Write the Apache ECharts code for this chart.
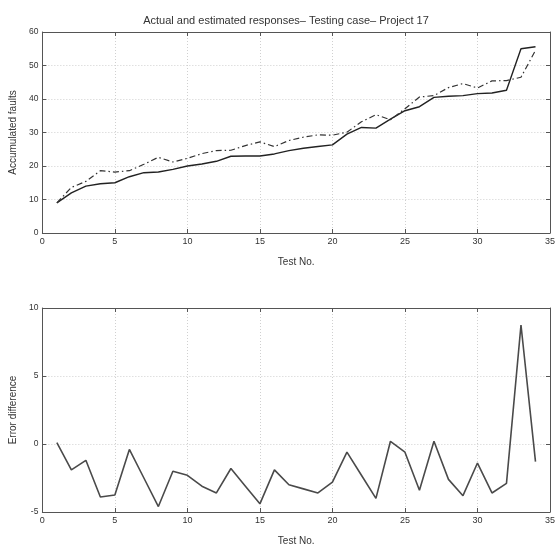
<!DOCTYPE html>
<html>
<head>
<meta charset="utf-8">
<script src="https://cdn.jsdelivr.net/npm/echarts@6/dist/echarts.min.js"></script>
<style>
html,body{margin:0;padding:0;background:#fff;}
#c{width:558px;height:547px;}
</style>
</head>
<body>
<div id="c"></div>
<script>
const tests = [1,2,3,4,5,6,7,8,9,10,11,12,13,14,15,16,17,18,19,20,21,22,23,24,25,26,27,28,29,30,31,32,33,34];
const actual = [9,12,14,14.7,15,16.8,18,18.2,19,20,20.6,21.4,22.9,23,23,23.6,24.6,25.3,25.8,26.3,29.5,31.5,31.3,34,36.5,37.7,40.5,40.8,41,41.6,41.8,42.6,55,55.6];
const estimated = [9,13.6,15.4,18.6,18.2,18.6,20.5,22.6,21.2,22.3,23.7,24.6,24.7,26.1,27.2,25.8,27.6,28.6,29.3,29.2,30.1,33.2,35.3,33.8,37.1,40.6,41,43.4,44.6,43.3,45.4,45.5,46.5,54.5];
const errorDiff = [0.1,-1.9,-1.2,-3.9,-3.75,-0.4,-2.5,-4.6,-2.0,-2.3,-3.1,-3.6,-1.8,-3.1,-4.4,-1.9,-3.0,-3.3,-3.6,-2.8,-0.6,-2.3,-4.0,0.2,-0.6,-3.4,0.2,-2.6,-3.8,-1.4,-3.6,-2.9,8.75,-1.3];
const xTicks = [0,5,10,15,20,25,30,35];
const topYTicks = [0,10,20,30,40,50,60];
const botYTicks = [-5,0,5,10];

const pairs = (ys) => tests.map((t,i)=>[t, ys[i]]);
const font = 'Liberation Sans, Arial, sans-serif';
const gridLine = {show:true, lineStyle:{color:'#d0d0d0', type:[1,2], width:1}};
const tickCol = '#555';
const line = {show:true, onZero:false, lineStyle:{color:'#555',width:1}};

function xAxes(gi){
  return [
    {gridIndex:gi, type:'value', min:xTicks[0], max:xTicks[xTicks.length-1], interval:5,
     axisLine:line,
     axisTick:{show:true,inside:true,length:4,lineStyle:{color:tickCol}},
     axisLabel:{color:'#333',fontSize:9,fontFamily:font,margin:4},
     splitLine:gridLine,
     name:'Test No.', nameLocation:'middle', nameGap:24,
     nameTextStyle:{color:'#333',fontSize:10,fontFamily:font}},
    {gridIndex:gi, type:'value', position:'top', min:xTicks[0], max:xTicks[xTicks.length-1], interval:5,
     axisLine:line,
     axisTick:{show:true,inside:true,length:4,lineStyle:{color:tickCol}},
     axisLabel:{show:false}, splitLine:{show:false}}
  ];
}
function yAxes(gi, mn, mx, iv, nm, gap){
  return [
    {gridIndex:gi, type:'value', min:mn, max:mx, interval:iv,
     axisLine:line,
     axisTick:{show:true,inside:true,length:4,lineStyle:{color:tickCol}},
     axisLabel:{color:'#333',fontSize:8.5,fontFamily:font,margin:4},
     splitLine:gridLine,
     name:nm, nameLocation:'middle', nameGap:gap, nameRotate:90,
     nameTextStyle:{color:'#333',fontSize:10,fontFamily:font}},
    {gridIndex:gi, type:'value', position:'right', min:mn, max:mx, interval:iv,
     axisLine:line,
     axisTick:{show:true,inside:true,length:4,lineStyle:{color:tickCol}},
     axisLabel:{show:false}, splitLine:{show:false}}
  ];
}

const chart = echarts.init(document.getElementById('c'), null, {renderer:'canvas'});
chart.setOption({
  backgroundColor:'#fff',
  animation:false,
  title:{text:'Actual and estimated responses– Testing case– Project 17', left:281, textAlign:'center', top:10,
    textStyle:{color:'#333',fontSize:11,fontWeight:'normal',fontFamily:font}},
  grid:[
    {left:37, right:5, top:32, height:201},
    {left:37, right:5, top:308, height:204}
  ],
  xAxis:[...xAxes(0), ...xAxes(1)],
  yAxis:[...yAxes(0, topYTicks[0], topYTicks[topYTicks.length-1], 10, 'Accumulated faults', 21),
         ...yAxes(1, botYTicks[0], botYTicks[botYTicks.length-1], 5, 'Error difference', 21)],
  series:[
    {type:'line', xAxisIndex:0, yAxisIndex:0, data:pairs(actual), showSymbol:false,
     lineStyle:{color:'#222', width:1.4}},
    {type:'line', xAxisIndex:0, yAxisIndex:0, data:pairs(estimated), showSymbol:false,
     lineStyle:{color:'#333', width:1.2, type:[6,3,1.5,3]}},
    {type:'line', xAxisIndex:2, yAxisIndex:2, data:pairs(errorDiff), showSymbol:false,
     lineStyle:{color:'#4a4a4a', width:1.6}}
  ]
});
</script>
</body>
</html>
